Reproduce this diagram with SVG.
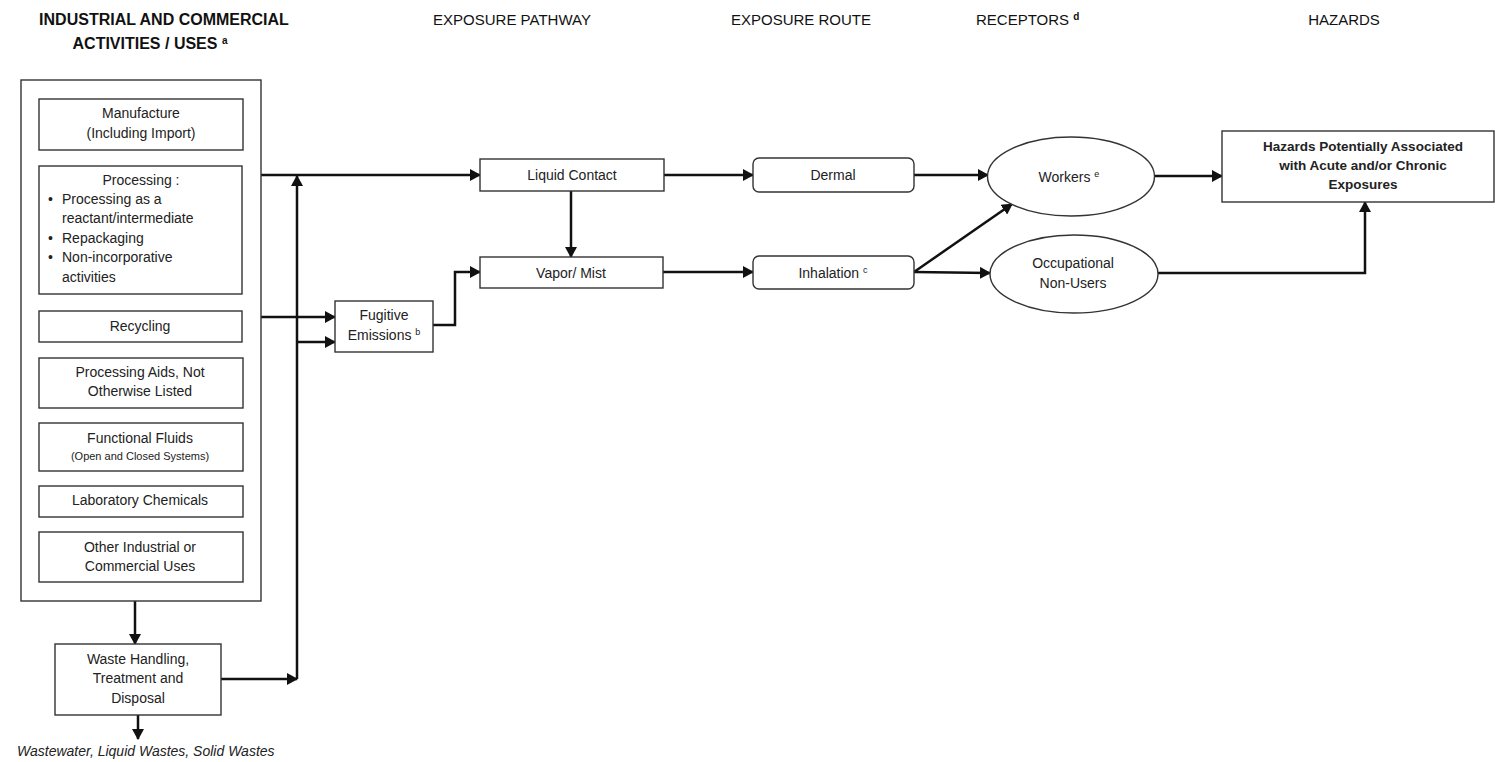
<svg xmlns="http://www.w3.org/2000/svg" width="1495" height="762" viewBox="0 0 1495 762">
<defs>
<style>
text{font-family:"Liberation Sans",Arial,sans-serif;fill:#222;}
.hdr{font-size:15px;fill:#111;}
.hb{font-size:16px;font-weight:bold;fill:#111;}
.t{font-size:14px;text-anchor:middle;}
.ts{font-size:11px;text-anchor:middle;}
.tl{font-size:14px;}
.tb{font-size:13.5px;font-weight:bold;text-anchor:middle;}
.box{fill:#fff;stroke:#333;stroke-width:1.4;}
.ca{fill:none;stroke:#111;stroke-width:2.5;marker-end:url(#ah);}
</style>
<marker id="ah" markerUnits="userSpaceOnUse" markerWidth="11" markerHeight="12" refX="10" refY="6" orient="auto">
<path d="M0,0 L11,6 L0,12 z" fill="#111"/>
</marker>
</defs>
<rect width="1495" height="762" fill="#fff"/>

<g id="headers">
<text class="hb" x="164" y="25" text-anchor="middle">INDUSTRIAL AND COMMERCIAL</text>
<text class="hb" x="150" y="49" text-anchor="middle">ACTIVITIES  / USES <tspan font-size="10" dy="-5">a</tspan></text>
<text class="hdr" x="512" y="25" text-anchor="middle">EXPOSURE PATHWAY</text>
<text class="hdr" x="801" y="25" text-anchor="middle">EXPOSURE ROUTE</text>
<text class="hdr" x="976" y="25">RECEPTORS <tspan font-size="10" font-weight="bold" dy="-5">d</tspan></text>
<text class="hdr" x="1344" y="25" text-anchor="middle">HAZARDS</text>
</g>

<g id="connectors">
<path class="ca" d="M135,601 V644"/>
<path class="ca" d="M138,715 V739"/>
<path class="ca" d="M221,679 H297"/>
<path class="ca" d="M297,679 V176"/>
<path class="ca" d="M261,175 H480"/>
<path class="ca" d="M261,317 H335"/>
<path class="ca" d="M297,342 H335"/>
<path class="ca" d="M433,325 H455 V272 H480"/>
<path class="ca" d="M571,191 V257"/>
<path class="ca" d="M664,175 H753"/>
<path class="ca" d="M663,272 H753"/>
<path class="ca" d="M914,175 H988"/>
<path class="ca" d="M914,272 L1012,204"/>
<path class="ca" d="M914,272 L990,273"/>
<path class="ca" d="M1155,176 H1222"/>
<path class="ca" d="M1158,273 H1365 V202"/>
</g>

<g id="activities">
<rect class="box" x="21" y="80" width="240" height="521"/>
</g>
<g id="manufacture">
<rect class="box" x="39" y="99" width="204" height="51"/>
<text class="t" x="141" y="118">Manufacture</text>
<text class="t" x="141" y="138">(Including Import)</text>
</g>
<g id="processing">
<rect class="box" x="39" y="166" width="203" height="128"/>
<text class="t" x="141" y="185">Processing :</text>
<text class="tl" x="48" y="204">•</text>
<text class="tl" x="62" y="204">Processing as a</text>
<text class="tl" x="62" y="223">reactant/intermediate</text>
<text class="tl" x="48" y="243">•</text>
<text class="tl" x="62" y="243">Repackaging</text>
<text class="tl" x="48" y="262">•</text>
<text class="tl" x="62" y="262">Non-incorporative</text>
<text class="tl" x="62" y="282">activities</text>
</g>
<g id="recycling">
<rect class="box" x="39" y="311" width="203" height="31"/>
<text class="t" x="140" y="331">Recycling</text>
</g>
<g id="processing-aids">
<rect class="box" x="39" y="358" width="204" height="50"/>
<text class="t" x="140" y="377">Processing Aids, Not</text>
<text class="t" x="140" y="396">Otherwise Listed</text>
</g>
<g id="functional-fluids">
<rect class="box" x="39" y="423" width="204" height="48"/>
<text class="t" x="140" y="443">Functional Fluids</text>
<text class="ts" x="140" y="460">(Open and Closed Systems)</text>
</g>
<g id="lab-chemicals">
<rect class="box" x="39" y="486" width="204" height="31"/>
<text class="t" x="140" y="505">Laboratory Chemicals</text>
</g>
<g id="other-uses">
<rect class="box" x="39" y="532" width="204" height="50"/>
<text class="t" x="140" y="552">Other  Industrial or</text>
<text class="t" x="140" y="571">Commercial Uses</text>
</g>
<g id="waste">
<rect class="box" x="55" y="644" width="166" height="71"/>
<text class="t" x="138" y="664">Waste Handling,</text>
<text class="t" x="138" y="683">Treatment  and</text>
<text class="t" x="138" y="703">Disposal</text>
</g>
<g id="waste-outputs">
<text class="tl" x="17" y="756" font-style="italic">Wastewater,  Liquid Wastes, Solid Wastes</text>
</g>
<g id="fugitive">
<rect class="box" x="335" y="301" width="98" height="51"/>
<text class="t" x="384" y="320">Fugitive</text>
<text class="t" x="384" y="340">Emissions <tspan font-size="9" dy="-5">b</tspan></text>
</g>
<g id="liquid-contact">
<rect class="box" x="480" y="159" width="184" height="32"/>
<text class="t" x="572" y="180">Liquid Contact</text>
</g>
<g id="vapor-mist">
<rect class="box" x="480" y="257" width="183" height="31"/>
<text class="t" x="571" y="278">Vapor/ Mist</text>
</g>
<g id="dermal">
<rect class="box" x="753" y="158" width="161" height="34" rx="6"/>
<text class="t" x="833" y="180">Dermal</text>
</g>
<g id="inhalation">
<rect class="box" x="753" y="256" width="161" height="33" rx="6"/>
<text class="t" x="833" y="278">Inhalation <tspan font-size="9" dy="-5">c</tspan></text>
</g>
<g id="workers">
<ellipse class="box" cx="1071" cy="176.5" rx="83.5" ry="39.5"/>
<text class="t" x="1069" y="182">Workers <tspan font-size="9" dy="-5">e</tspan></text>
</g>
<g id="non-users">
<ellipse class="box" cx="1074" cy="274" rx="84" ry="39"/>
<text class="t" x="1073" y="268">Occupational</text>
<text class="t" x="1073" y="288">Non-Users</text>
</g>
<g id="hazards">
<rect class="box" x="1222" y="131" width="272" height="71"/>
<text class="tb" x="1363" y="151">Hazards  Potentially Associated</text>
<text class="tb" x="1363" y="170">with Acute and/or Chronic</text>
<text class="tb" x="1363" y="189">Exposures</text>
</g>
</svg>
